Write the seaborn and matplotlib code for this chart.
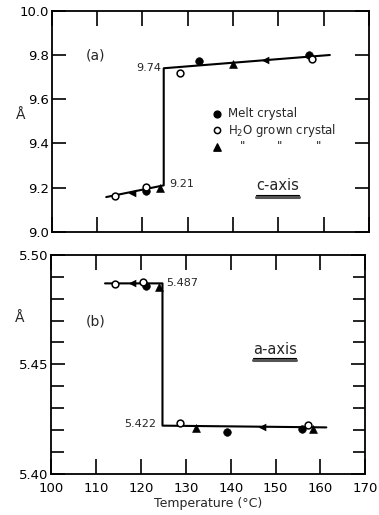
import matplotlib
matplotlib.use("Agg")
import matplotlib.pyplot as plt
import seaborn as sns

# ---- c-axis (panel a) ----
c_melt_T = [120.8, 132.6, 156.7]
c_melt_v = [9.186, 9.772, 9.800]
c_h2o_T = [113.9, 120.8, 128.3, 157.5]
c_h2o_v = [9.163, 9.204, 9.720, 9.780]
c_tri_T = [123.8, 140.1]
c_tri_v = [9.196, 9.759]
c_line_T = [112.0, 124.7, 124.7, 161.4]
c_line_v = [9.157, 9.21, 9.74, 9.800]
c_arrow_T = [117.7, 147.0]
c_arrow_v = [9.177, 9.777]

# ---- a-axis (panel b) ----
a_melt_T = [121.1, 139.1, 155.9]
a_melt_v = [5.4858, 5.4190, 5.4204]
a_h2o_T = [114.3, 120.5, 128.6, 157.3]
a_h2o_v = [5.4866, 5.4877, 5.4231, 5.4224]
a_tri_T = [124.0, 132.3, 158.3]
a_tri_v = [5.4855, 5.4208, 5.4204]
a_line_T = [112.0, 124.8, 124.8, 161.3]
a_line_v = [5.487, 5.487, 5.422, 5.4212]
a_arrow_T = [118.0, 147.0]
a_arrow_v = [5.487, 5.4216]

x_ticks = [100, 110, 120, 130, 140, 150, 160, 170]
c_yticks = [9.0, 9.2, 9.4, 9.6, 9.8, 10.0]
a_yticks = [5.40, 5.45, 5.50]
a_yminor = [5.41, 5.42, 5.43, 5.44, 5.46, 5.47, 5.48, 5.49]

sns.set_theme(style="ticks")
plt.rcParams["font.family"] = ["DejaVu Sans"]

fig = plt.figure(figsize=(3.79, 5.15), dpi=100)
ax1 = fig.add_axes([0.137, 0.550, 0.836, 0.429])
ax2 = fig.add_axes([0.135, 0.080, 0.829, 0.425])

def draw_panel(ax, line_T, line_v, arrow_T, arrow_v, melt, h2o, tri):
    sns.lineplot(x=line_T, y=line_v, sort=False, estimator=None, color="black",
                 linewidth=1.5, ax=ax)
    sns.scatterplot(x=arrow_T, y=arrow_v, marker="<", s=30, color="black",
                    linewidth=0, ax=ax, zorder=4)
    sns.scatterplot(x=melt[0], y=melt[1], marker="o", s=30, color="black",
                    edgecolor="black", ax=ax, zorder=5)
    sns.scatterplot(x=h2o[0], y=h2o[1], marker="o", s=24, facecolor="white",
                    edgecolor="black", linewidth=1.1, ax=ax, zorder=5)
    sns.scatterplot(x=tri[0], y=tri[1], marker="^", s=32, color="black",
                    edgecolor="black", ax=ax, zorder=5)
    ax.set_xlim(100, 170)
    ax.set_xticks(x_ticks)
    ax.tick_params(axis="both", which="both", direction="in", top=True, right=True,
                   width=1.2, labelsize=9.5, colors="black")
    ax.tick_params(axis="x", which="major", length=11, pad=6)
    ax.tick_params(axis="y", which="major", length=10, pad=2)
    ax.tick_params(axis="y", which="minor", length=9, width=1.2)
    for s in ax.spines.values():
        s.set_linewidth(1.3)
        s.set_color("black")
    ax.set_xlabel("")
    ax.set_ylabel("")

draw_panel(ax1, c_line_T, c_line_v, c_arrow_T, c_arrow_v,
           (c_melt_T, c_melt_v), (c_h2o_T, c_h2o_v), (c_tri_T, c_tri_v))
ax1.set_ylim(9.0, 10.0)
ax1.set_yticks(c_yticks)
ax1.set_yticklabels(["9.0", "9.2", "9.4", "9.6", "9.8", "10.0"])
ax1.tick_params(axis="x", labelbottom=False)

draw_panel(ax2, a_line_T, a_line_v, a_arrow_T, a_arrow_v,
           (a_melt_T, a_melt_v), (a_h2o_T, a_h2o_v), (a_tri_T, a_tri_v))
ax2.set_ylim(5.40, 5.50)
ax2.set_yticks(a_yticks)
ax2.set_yticklabels(["5.40", "5.45", "5.50"])
ax2.set_yticks(a_yminor, minor=True)
ax2.set_xticklabels([str(t) for t in x_ticks])
ax2.set_xlabel("Temperature (\u00b0C)", fontsize=9, labelpad=1)

# panel tags and value labels
ax1.text(109.6, 9.80, "(a)", fontsize=10, ha="center", va="center")
ax2.text(109.9, 5.4696, "(b)", fontsize=10, ha="center", va="center")
ax1.text(124.2, 9.74, "9.74", fontsize=8, ha="right", va="center")
ax1.text(126.0, 9.215, "9.21", fontsize=8, ha="left", va="center")
ax2.text(125.6, 5.487, "5.487", fontsize=8, ha="left", va="center")
ax2.text(123.4, 5.4228, "5.422", fontsize=8, ha="right", va="center")

for ax, yf in ((ax1, 0.53), (ax2, 0.71)):
    ax.text(-0.10, yf, "Å", transform=ax.transAxes, fontsize=10,
            ha="center", va="center")

# legend drawn as text rows inside panel a
ax1.scatter([136.5], [9.535], marker="o", s=24, color="black", zorder=5)
ax1.scatter([136.5], [9.46], marker="o", s=20, facecolor="white",
            edgecolor="black", linewidth=1.1, zorder=5)
ax1.scatter([136.5], [9.385], marker="^", s=28, color="black", zorder=5)
ax1.text(139.0, 9.535, "Melt crystal", fontsize=8.5, ha="left", va="center")
ax1.text(139.0, 9.46, "H$_2$O grown crystal", fontsize=8.5, ha="left", va="center")
for qx in (142.1, 150.4, 158.8):
    ax1.text(qx, 9.385, "\"", fontsize=8.5, ha="center", va="center")

# axis name captions with double underline
ax1.text(149.8, 9.211, "c-axis", fontsize=10.5, ha="center", va="center")
ax1.plot([145.0, 154.6], [9.166, 9.166], color="black", lw=0.8)
ax1.plot([145.0, 154.6], [9.158, 9.158], color="#555555", lw=2.2)
ax2.text(149.8, 5.4566, "a-axis", fontsize=10.5, ha="center", va="center")
ax2.plot([145.0, 154.6], [5.4530, 5.4530], color="black", lw=0.8)
ax2.plot([145.0, 154.6], [5.4522, 5.4522], color="#555555", lw=2.2)

fig.savefig("out.png", dpi=100)
